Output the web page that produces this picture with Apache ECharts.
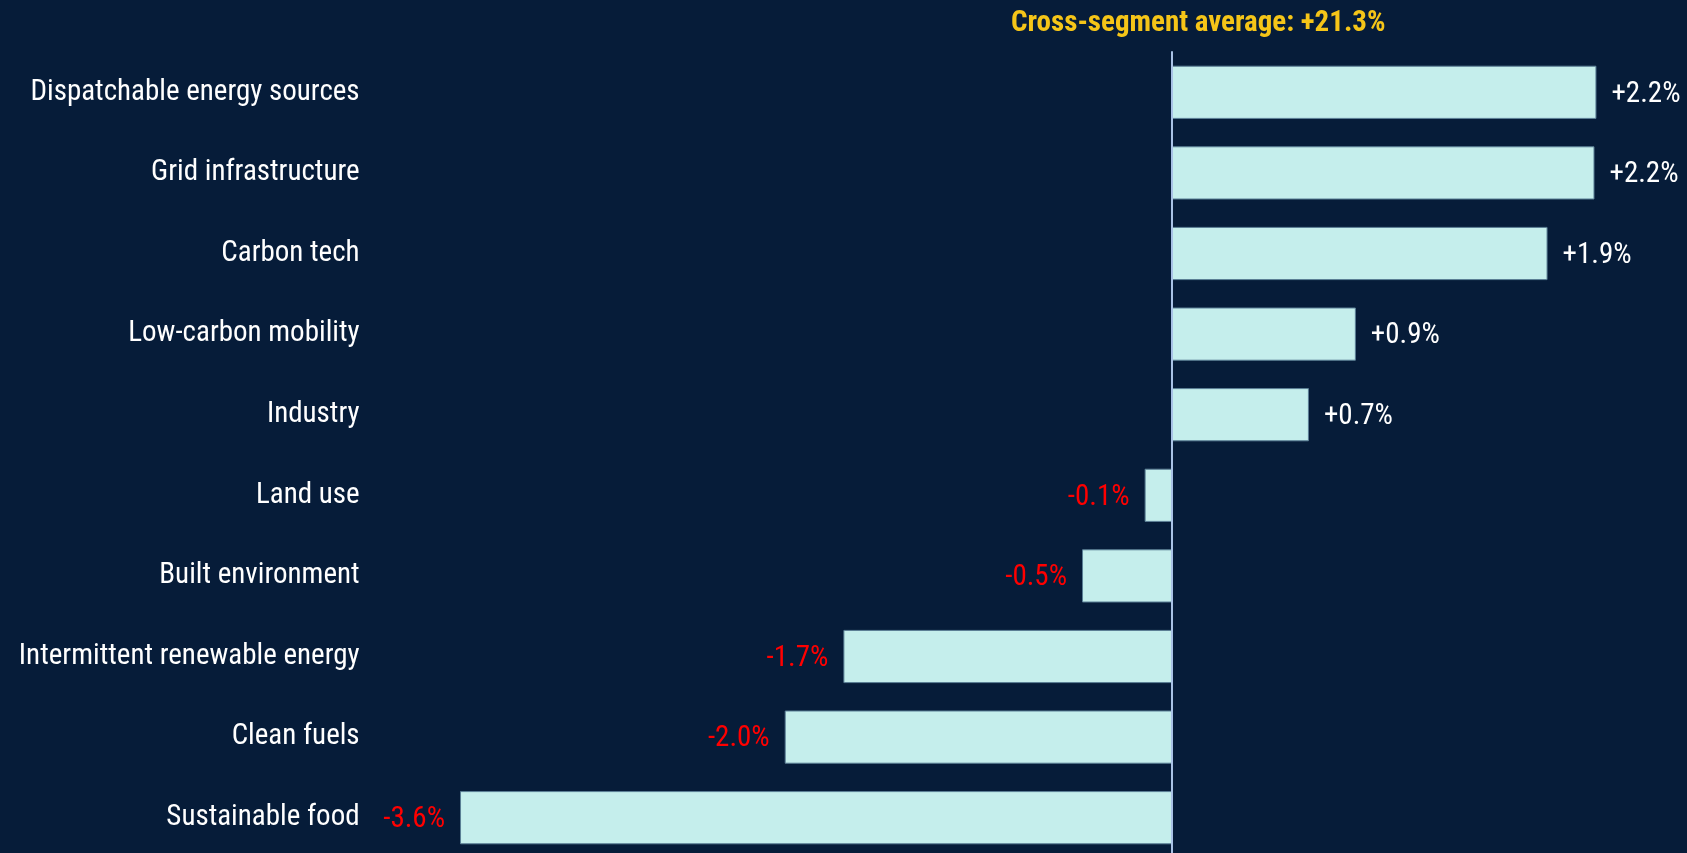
<!DOCTYPE html>
<html>
<head>
<meta charset="utf-8">
<title>Segment change</title>
<script src="https://cdn.jsdelivr.net/npm/echarts@6/dist/echarts.min.js"></script>
<style>
  html, body { margin: 0; padding: 0; background: #061c39; }
  #chart { width: 1687px; height: 853px; }
</style>
</head>
<body>
<div id="chart"></div>
<script>
// Segment names, top to bottom
const segments = [
  'Dispatchable energy sources',
  'Grid infrastructure',
  'Carbon tech',
  'Low-carbon mobility',
  'Industry',
  'Land use',
  'Built environment',
  'Intermittent renewable energy',
  'Clean fuels',
  'Sustainable food'
];
// Change per segment, in percent
const changes = [2.17, 2.16, 1.92, 0.94, 0.70, -0.14, -0.46, -1.68, -1.98, -3.64];
// Average across all segments, in percent
const crossSegmentAverage = 21.3;

const FONT = "'Roboto Condensed', 'Liberation Sans Narrow', 'DejaVu Sans Condensed', Roboto, sans-serif";
const fmt = v => (v > 0 ? '+' : '') + v.toFixed(1) + '%';

const chart = echarts.init(document.getElementById('chart'), null, { renderer: 'canvas' });

chart.setOption({
  backgroundColor: '#061c39',
  animation: false,
  title: {
    text: 'Cross-segment average: ' + fmt(crossSegmentAverage),
    left: 1006,
    top: 4,
    textStyle: { color: '#f5c518', fontFamily: FONT, fontWeight: 'bold', fontSize: 29 }
  },
  // the last band runs slightly past the bottom edge of the canvas
  grid: { left: 389.6, right: 26, top: 52, height: 806, containLabel: false, outerBoundsMode: 'none' },
  xAxis: {
    type: 'value',
    min: -4,
    max: 2.5,
    show: false
  },
  yAxis: {
    type: 'category',
    data: segments,
    inverse: true,
    axisTick: { show: false },
    axisLine: { show: true, onZero: true, lineStyle: { color: '#a9c2e6', width: 2 } },
    axisLabel: {
      show: true,
      margin: 30,
      color: '#ffffff',
      fontFamily: FONT,
      fontSize: 29,
      padding: [4, 0, 0, 0]
    },
    z: 5
  },
  series: [{
    type: 'bar',
    barCategoryGap: '34%',
    itemStyle: { color: '#c5eeec', borderColor: '#5b7f96', borderWidth: 1 },
    data: changes.map(v => ({
      value: v,
      label: {
        show: true,
        position: v >= 0 ? 'right' : 'left',
        distance: 15,
        offset: [0, 2],
        color: v >= 0 ? '#ffffff' : '#ff0000',
        fontFamily: FONT,
        fontSize: 29,
        formatter: p => fmt(p.value)
      }
    }))
  }]
});
</script>
</body>
</html>
